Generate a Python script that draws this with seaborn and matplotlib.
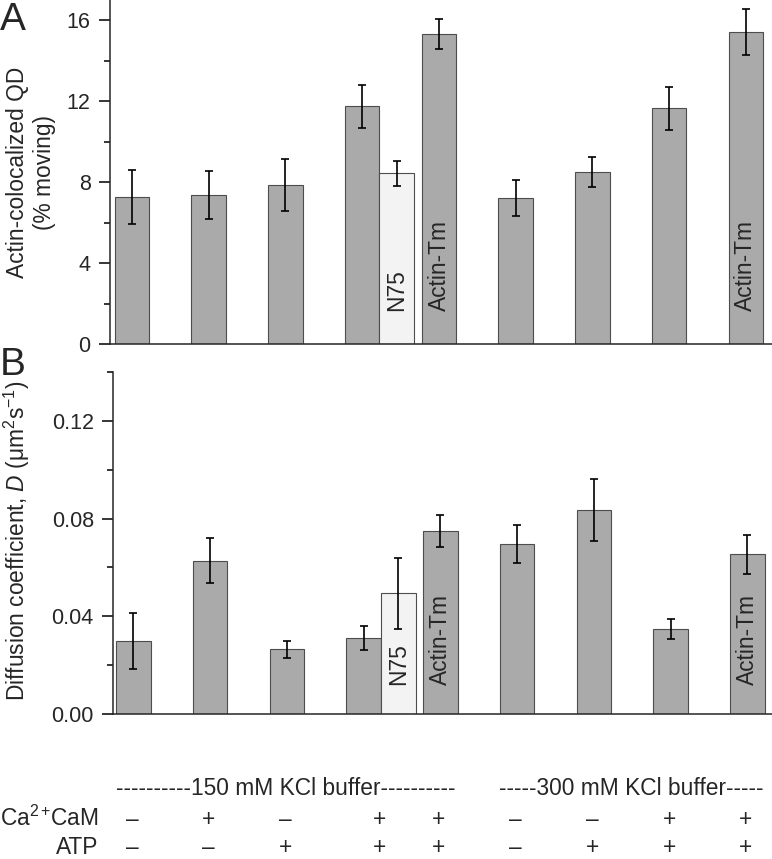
import numpy as np
import pandas as pd
import matplotlib
matplotlib.use("Agg")
import matplotlib.pyplot as plt
import matplotlib.transforms as mtransforms
from matplotlib.ticker import MultipleLocator, FormatStrFormatter
import seaborn as sns


# Datos

bar_pos = [0, 1, 2, 3, 3.45, 4, 5, 6, 7, 8]
bar_kind = ["myo", "myo", "myo", "myo", "N75", "Actin-Tm",
            "myo", "myo", "myo", "Actin-Tm"]

moving_pct = [7.27, 7.37, 7.84, 11.75, 8.43, 15.34, 7.21, 8.49, 11.64, 15.41]
moving_err = [1.35, 1.20, 1.28, 1.07, 0.62, 0.74, 0.89, 0.74, 1.06, 1.13]

diff_coef = [0.0300, 0.0627, 0.0265, 0.0311, 0.0494, 0.0748,
             0.0696, 0.0835, 0.0349, 0.0654]
diff_err = [0.0113, 0.0092, 0.0035, 0.0048, 0.0146, 0.0065,
            0.0076, 0.0125, 0.0040, 0.0079]

cond_pos = [0, 1, 2, 3.225, 4, 5, 6, 7, 8]
cam_signs = ["–", "+", "–", "+", "+", "–", "–", "+", "+"]
atp_signs = ["–", "–", "+", "+", "+", "–", "+", "+", "+"]

buffers = ["----------150 mM KCl buffer----------",
           "-----300 mM KCl buffer-----"]
buffer_pos = [2.0, 6.5]

palette = {"myo": "#aaaaaa", "N75": "#f3f3f3", "Actin-Tm": "#aaaaaa"}


# Estilo

sns.set_style("ticks")
plt.rcParams["font.family"] = ["Liberation Sans", "DejaVu Sans"]
plt.rcParams["mathtext.fontset"] = "custom"
plt.rcParams["mathtext.rm"] = "Liberation Sans"
plt.rcParams["mathtext.it"] = "Liberation Sans:italic"
plt.rcParams["axes.linewidth"] = 1.1

fig = plt.figure(figsize=(7.72, 8.59), dpi=100)

ax_a = fig.add_axes([110 / 772, 1 - 344 / 859, 662 / 772, 344 / 859])
ax_b = fig.add_axes([113.3 / 772, 1 - 714.3 / 859, 658.7 / 772, 342.6 / 859])


# Función para un panel

def panel(ax, valores, errores, ylim, major, minor, text_y):

    df = pd.DataFrame({
        "pos": bar_pos,
        "val": valores,
        "kind": bar_kind
    })

    sns.barplot(
        data=df,
        x="pos",
        y="val",
        hue="kind",
        palette=palette,
        native_scale=True,
        width=1,
        saturation=1,
        errorbar=None,
        edgecolor="#4d4d4d",
        linewidth=0.8,
        legend=False,
        ax=ax
    )

    ax.errorbar(
        bar_pos,
        valores,
        yerr=errores,
        fmt="none",
        ecolor="black",
        elinewidth=1.2,
        capsize=3,
        capthick=1.2,
        zorder=5
    )

    for x, kind in zip(bar_pos, bar_kind):
        if kind != "myo":
            ax.text(x, text_y, kind, rotation=90, ha="center",
                    va="bottom", fontsize=16.4)

    ax.set_ylim(*ylim)
    ax.yaxis.set_major_locator(MultipleLocator(major))
    ax.yaxis.set_minor_locator(MultipleLocator(minor))
    ax.tick_params(axis="x", bottom=False, labelbottom=False)
    ax.tick_params(axis="y", which="major", length=8, width=1.1,
                   labelsize=15.5, pad=6, color="black")
    ax.tick_params(axis="y", which="minor", length=4.5, width=1.1,
                   color="black")
    ax.set_xlabel("")
    ax.set_ylabel("")
    sns.despine(ax=ax)


panel(ax_a, moving_pct, moving_err, (0, 17), 4, 2, 1.65)
ax_a.set_xlim(-0.287, 8.34)

panel(ax_b, diff_coef, diff_err, (0, 0.14), 0.04, 0.02, 0.012)
ax_b.set_xlim(-0.263, 8.32)
ax_b.yaxis.set_major_formatter(FormatStrFormatter("%.2f"))


# Etiquetas

fig.text(31 / 772, 1 - 172.5 / 859, "Actin-colocalized QD\n(% moving)",
         rotation=90, ha="center", va="center", multialignment="center",
         fontsize=16.4, linespacing=1.25)

fig.text(17 / 772, 1 - 541 / 859,
         "Diffusion coefficient, $\\it{D}$ (μm$^2$s$^{-1}$)",
         rotation=90, ha="center", va="center", fontsize=16.4)

fig.text(0.0, 1 - 30 / 859, "A", fontsize=28, va="baseline")
fig.text(0.0, 1 - 375 / 859, "B", fontsize=28, va="baseline")


# Tabla de condiciones

trans = mtransforms.blended_transform_factory(ax_a.transData, fig.transFigure)

row_hdr = 1 - 795 / 859
row_cam = 1 - 826 / 859
row_atp = 1 - 854 / 859

for x, txt in zip(buffer_pos, buffers):
    fig.text(x, row_hdr, txt, transform=trans, ha="center",
             va="baseline", fontsize=16.4)

fig.text(98 / 772, row_cam, "$\\mathregular{Ca^{2+}\\!CaM}$", ha="right",
         va="baseline", fontsize=16.4)
fig.text(98 / 772, row_atp, "ATP", ha="right",
         va="baseline", fontsize=16.4)

for x, cam, atp in zip(cond_pos, cam_signs, atp_signs):
    fig.text(x, row_cam, cam, transform=trans, ha="center",
             va="baseline", fontsize=16.4)
    fig.text(x, row_atp, atp, transform=trans, ha="center",
             va="baseline", fontsize=16.4)

plt.savefig("out.png", dpi=100)
plt.close()
